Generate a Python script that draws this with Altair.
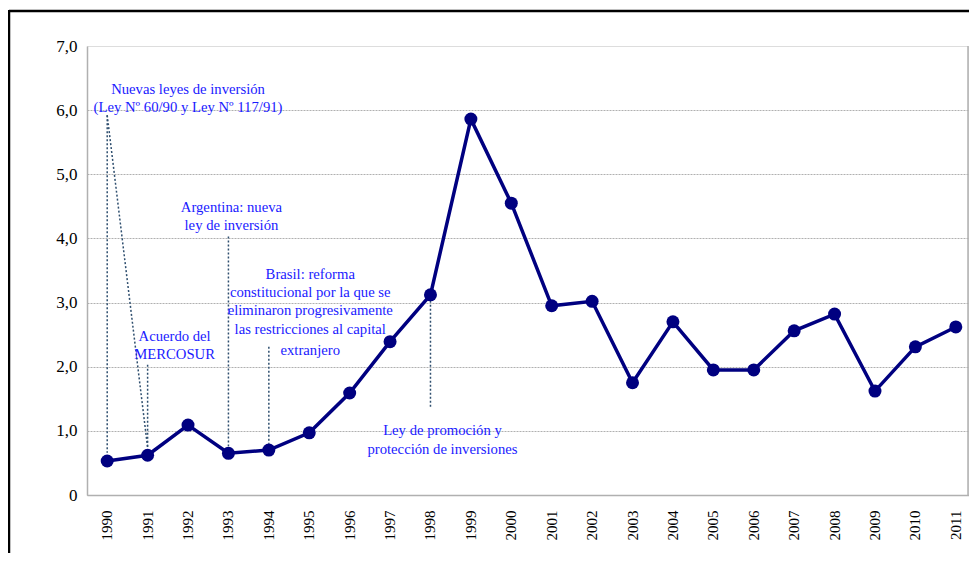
import altair as alt
import pandas as pd

years = [str(y) for y in range(1990, 2012)]
values = [0.53, 0.62, 1.09, 0.65, 0.70, 0.97, 1.59, 2.39, 3.12, 5.86, 4.55,
          2.95, 3.02, 1.75, 2.70, 1.95, 1.95, 2.56, 2.82, 1.62, 2.31, 2.62]

# annotation texts (one row per line)
ann_text = ["Nuevas leyes de inversión", "(Ley Nº 60/90 y Ley Nº 117/91)",
            "Acuerdo del", "MERCOSUR",
            "Argentina: nueva", "ley de inversión",
            "Brasil: reforma", "constitucional por la que se",
            "eliminaron progresivamente", "las restricciones al capital", "extranjero",
            "Ley de promoción y", "protección de inversiones"]
ann_group = [0, 0, 1, 1, 2, 2, 3, 3, 3, 3, 3, 4, 4]
ann_year = ["1992", "1992", "1991", "1991", "1993", "1993",
            "1995", "1995", "1995", "1995", "1995", "1998", "1998"]
ann_y = [6.31, 6.03, 2.46, 2.18, 4.47, 4.19, 3.43, 3.15, 2.87, 2.57, 2.25, 1.00, 0.70]
group_dx = [0, 27, 3, 1, 12]

# leader lines
lead_x = ["1990", "1990", "1991", "1993", "1994", "1998"]
lead_x2 = ["1990", "1991", "1991", "1993", "1994", "1998"]
lead_y = [5.92, 5.92, 2.03, 4.03, 2.31, 3.09]
lead_y2 = [0.66, 0.74, 0.74, 0.76, 0.80, 1.36]

W, H = 881, 449
FONT = "Liberation Serif, Times New Roman, serif"

df = pd.DataFrame({"year": years, "value": values})
ann = pd.DataFrame({"text": ann_text, "g": ann_group, "year": ann_year, "y": ann_y})
lead = pd.DataFrame({"x": lead_x, "x2": lead_x2, "y": lead_y, "y2": lead_y2})
dummy = pd.DataFrame({"a": [0]})

xscale = alt.Scale(domain=years, range=[0, 889])
yscale = alt.Scale(domain=[0, 7], nice=False)

xaxis = alt.Axis(title=None, labelAngle=-90, labelFont=FONT, labelFontSize=15,
                 labelColor="black", ticks=False, domainColor="#b0b0b0", domainWidth=1.5,
                 labelPadding=15, grid=False, labelBaseline="middle", labelAlign="right")
yaxis = alt.Axis(title=None, values=[0, 1, 2, 3, 4, 5, 6, 7],
                 labelExpr="datum.value == 0 ? '0' : replace(format(datum.value, '.1f'), '.', ',')",
                 labelFont=FONT, labelFontSize=17, labelColor="black",
                 ticks=False, domainColor="#b0b0b0", domainWidth=1.5, labelPadding=10,
                 grid=True, gridColor="#b0b0b0", gridDash=[2, 1], gridWidth=1,
                 gridOpacity={"condition": {"test": "datum.value === 7", "value": 0}, "value": 1})

base = alt.Chart(df)
line = base.mark_line(color="#000080", strokeWidth=3.5).encode(
    x=alt.X("year:O", scale=xscale, axis=xaxis),
    y=alt.Y("value:Q", scale=yscale, axis=yaxis),
)
points = base.mark_circle(color="#000080", size=169, opacity=1).encode(
    x=alt.X("year:O", scale=xscale),
    y=alt.Y("value:Q", scale=yscale),
)

leaders = alt.Chart(lead).mark_rule(color="#2f4f6f", strokeDash=[2, 2], strokeWidth=1.5).encode(
    x=alt.X("x:O", scale=xscale), x2="x2:O",
    y=alt.Y("y:Q", scale=yscale), y2="y2:Q",
)

text_layers = []
for g, dx in enumerate(group_dx):
    text_layers.append(
        alt.Chart(ann).transform_filter(alt.datum.g == g).mark_text(
            font=FONT, fontSize=14.7, color="#1a1aff", baseline="middle", align="center", dx=dx
        ).encode(
            x=alt.X("year:O", scale=xscale),
            y=alt.Y("y:Q", scale=yscale),
            text="text:N",
        )
    )

right_border = alt.Chart(dummy).mark_rule(color="#b0b0b0", strokeWidth=1.5).encode(
    x=alt.value(W), y=alt.value(0), y2=alt.value(H))
frame_top = alt.Chart(dummy).mark_rule(color="black", strokeWidth=2.5).encode(
    x=alt.value(-78), x2=alt.value(W + 10), y=alt.value(-35))
frame_left = alt.Chart(dummy).mark_rule(color="black", strokeWidth=2.5).encode(
    x=alt.value(-78), y=alt.value(-36), y2=alt.value(H + 80))

chart = alt.layer(leaders, line, points, *text_layers, right_border, frame_top, frame_left).properties(
    width=W, height=H,
    padding={"left": 79, "top": 38, "right": 1, "bottom": 58},
    autosize="none",
).configure_view(stroke=None).configure(background="white")

chart.save("out.html", embed_options={"renderer": "svg", "actions": False})
